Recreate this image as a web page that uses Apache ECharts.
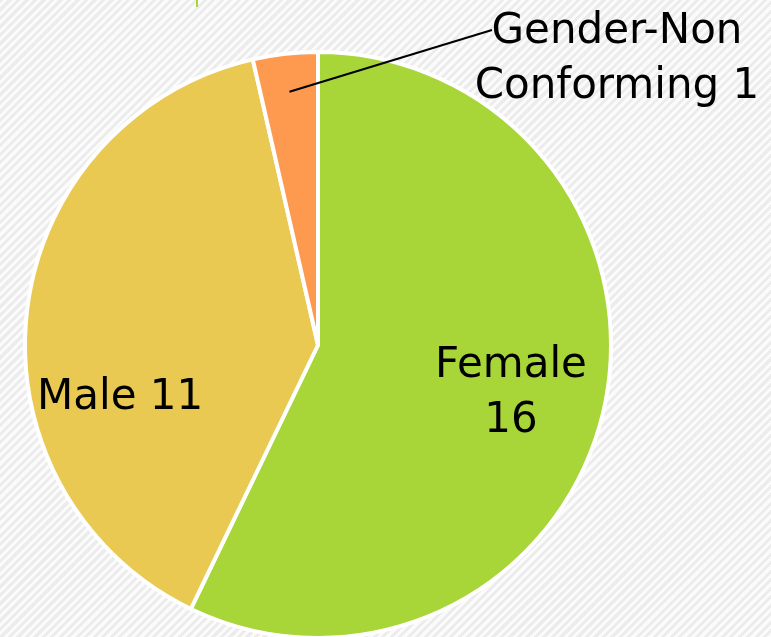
<!DOCTYPE html>
<html>
<head>
<meta charset="utf-8">
<script src="https://cdn.jsdelivr.net/npm/echarts@6/dist/echarts.min.js"></script>
<style>
  html, body { margin: 0; padding: 0; }
  body {
    width: 771px; height: 637px; overflow: hidden;
    background: repeating-linear-gradient(-45deg, #fbfbfb 0px, #fbfbfb 3px, #ececec 3px, #ececec 6px);
  }
  #main { width: 771px; height: 637px; }
</style>
</head>
<body>
<div id="main"></div>
<script>
const categories = ['Female', 'Male', 'Gender-Non\nConforming'];
const counts = [16, 11, 1];
const colors = ['#a8d537', '#e9c952', '#fd9a50'];

const cx = 318, cy = 345, R = 293;

// where the labels sit (the original places them by hand)
const labelSpots = [
  { x: 511, y: 394, align: 'center' },
  { x: 37, y: 398, align: 'left' },
  { x: 617, y: 60, align: 'center' }
];

const total = counts.reduce(function (a, b) { return a + b; }, 0);

// leader line starts inside the small slice, at its middle angle
function leaderStart(i) {
  let before = 0;
  for (let k = 0; k < i; k++) before += counts[k];
  const ang = (before + counts[i] / 2) / total * Math.PI * 2;
  const r = R * 0.87;
  return [cx + r * Math.sin(ang), cy - r * Math.cos(ang)];
}

const st = leaderStart(2);
const leaderEnd = [labelSpots[2].x - 125, labelSpots[2].y - 30];

const myChart = echarts.init(document.getElementById('main'));

const option = {
  backgroundColor: 'transparent',
  animation: false,
  graphic: [
    { type: 'line', shape: { x1: 197, y1: 0, x2: 197, y2: 7 }, style: { stroke: '#a8d537', lineWidth: 2 } },
    { type: 'line', z: 100, shape: { x1: st[0], y1: st[1], x2: leaderEnd[0], y2: leaderEnd[1] }, style: { stroke: '#000', lineWidth: 2 } }
  ],
  series: [
    {
      type: 'pie',
      center: [cx, cy],
      radius: R,
      startAngle: 90,
      clockwise: true,
      itemStyle: { borderColor: '#ffffff', borderWidth: 4 },
      label: {
        position: 'inside',
        color: '#000',
        fontFamily: 'DejaVu Sans',
        fontSize: 42,
        lineHeight: 55,
        overflow: 'none',
        formatter: function (p) {
          return p.dataIndex === 0 ? p.name + '\n' + p.value : p.name + ' ' + p.value;
        }
      },
      labelLine: { show: false },
      labelLayout: function (params) {
        const s = labelSpots[params.dataIndex];
        return { x: s.x, y: s.y, align: s.align, verticalAlign: 'middle' };
      },
      data: categories.map(function (c, i) {
        return {
          name: c,
          value: counts[i],
          itemStyle: { color: colors[i] },
          label: { align: labelSpots[i].align }
        };
      })
    }
  ]
};

myChart.setOption(option);
</script>
</body>
</html>
